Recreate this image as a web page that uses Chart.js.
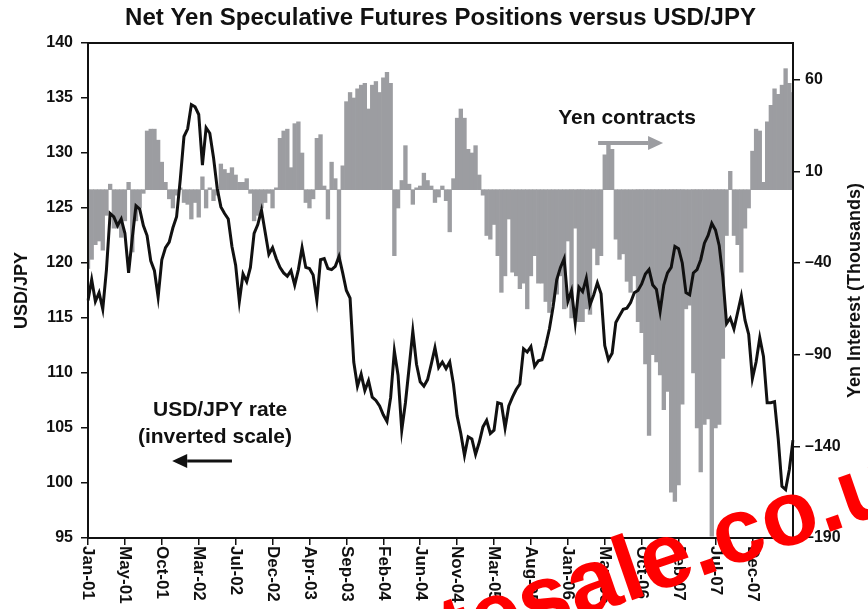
<!DOCTYPE html>
<html>
<head>
<meta charset="utf-8">
<script src="https://cdn.jsdelivr.net/npm/chart.js@4.4.1/dist/chart.umd.min.js"></script>
<style>
  html, body { margin: 0; padding: 0; background: #fff; }
</style>
</head>
<body>
<canvas id="chartYen" width="868" height="609"></canvas>
<script>
// dados (quinzenal, jan-2001 ate ~abr-2008)
const tickLabels = ['Jan-01','May-01','Oct-01','Mar-02','Jul-02','Dec-02','Apr-03','Sep-03','Feb-04','Jun-04',
  'Nov-04','Mar-05','Aug-05','Jan-06','May-06','Oct-06','Feb-07','Jul-07','Dec-07']
const passoRotulo = 10

const usdJpy = [116.6,118.5,116.5,117.3,115.8,119.4,124.5,124.2,123.4,124.0,
  122.7,119.1,122.3,125.2,124.9,123.4,122.5,120.2,119.3,116.9,
  120.3,121.4,121.9,123.2,124.2,127.6,131.5,132.2,134.4,134.2,
  133.5,128.9,132.3,131.8,129.6,126.8,125.1,124.5,124.0,121.5,
  119.8,116.5,119.0,118.3,119.6,122.7,123.5,124.8,122.8,120.8,
  121.4,120.4,119.6,119.1,118.8,119.3,118.0,119.4,121.4,119.6,
  119.5,118.9,116.6,120.3,120.4,119.5,119.4,119.7,120.6,119.1,
  117.5,116.8,111.0,108.8,109.9,108.4,109.3,107.8,107.5,107.0,
  106.2,105.6,107.8,112.0,109.8,104.8,107.3,110.5,113.8,110.8,
  109.2,108.8,109.4,110.8,112.3,110.5,111.0,110.4,111.0,109.0,
  106.1,104.5,102.5,104.2,104.0,102.6,103.7,105.1,105.7,104.5,
  104.8,107.3,107.2,105.0,107.0,107.8,108.5,109.0,112.2,111.9,
  112.4,110.6,111.1,111.2,112.5,114.0,116.0,118.5,119.6,120.4,
  116.5,117.5,114.6,117.8,117.4,118.6,116.2,117.1,118.2,117.2,
  112.5,111.2,111.8,114.6,115.2,115.8,115.9,116.4,117.3,117.5,
  118.1,119.0,119.4,118.0,117.6,115.6,118.0,119.1,119.6,121.5,
  121.3,120.0,117.3,117.1,119.1,119.4,120.3,121.8,122.5,123.6,
  123.0,121.6,118.7,114.5,115.0,114.0,115.5,117.0,114.8,113.5,
  109.5,111.0,113.2,111.5,107.3,107.3,107.4,104.0,99.7,99.4,
  101.2,103.9]

const yenContracts = [-43,-38,-30,-28,-33,-14,3,-21,-21,-26,
  -17,4,-34,-17,-10,-2,32,33,33,27,
  15,4,-5,-10,-3,1,-7,-8,-16,-7,
  -15,7,-10,1,-6,-3,14,11,9,12,
  8,4,4,6,-2,-17,-14,-10,-7,-2,
  -10,1,28,32,33,12,36,37,20,-7,
  -10,-5,28,30,2,-16,15,6,-38,13,
  48,53,50,55,57,58,44,57,59,53,
  61,64,58,-36,-10,5,24,3,-8,1,
  2,9,5,2,-7,-4,2,-6,-23,6,
  39,44,39,22,20,24,8,-3,-25,-27,
  -19,-36,-56,-47,-16,-45,-47,-54,-51,-65,
  -47,-36,-51,-51,-61,-67,-61,-57,-47,-65,
  -28,-70,-21,-72,-72,-65,-68,-32,-41,-36,
  19,26,22,-27,-38,-35,-50,-56,-47,-72,
  -78,-95,-134,-90,-94,-101,-120,-110,-165,-170,
  -161,-117,-65,-63,-100,-130,-154,-128,-125,-189,
  -130,-128,-92,-25,10,-25,-30,-45,-21,-10,
  21,33,32,4,37,46,55,52,57,66,
  58,53]

const ticksUsd = [95,100,105,110,115,120,125,130,135,140]
const ticksYen = [-190,-140,-90,-40,10,60]

// rotulos da categoria: so a cada 10 pontos
var labels = usdJpy.map((v, i) => (i % passoRotulo == 0 && tickLabels[i / passoRotulo]) || '')

const fonte = '"Liberation Sans", Arial, sans-serif'
const preto = '#111111'
const cinza = '#9c9da1'

const extras = {
  id: 'extras',
  afterDraw(chart) {
    const c = chart.ctx
    const a = chart.chartArea
    const sx = chart.scales.x, sy = chart.scales.y, sy1 = chart.scales.y1
    c.save()

    // moldura
    c.strokeStyle = preto
    c.lineWidth = 2
    c.strokeRect(a.left, a.top, a.right - a.left, a.bottom - a.top)

    // titulo
    c.fillStyle = preto
    c.font = 'bold 24px ' + fonte
    c.textAlign = 'center'
    c.textBaseline = 'middle'
    c.fillText('Net Yen Speculative Futures Positions versus USD/JPY', (a.left + a.right) / 2, 18)

    // titulos dos eixos
    c.font = 'bold 18px ' + fonte
    c.save(); c.translate(22, (a.top + a.bottom) / 2); c.rotate(-Math.PI / 2); c.fillText('USD/JPY', 0, 0); c.restore()
    c.save(); c.translate(855, (a.top + a.bottom) / 2); c.rotate(-Math.PI / 2); c.fillText('Yen Interest (Thousands)', 0, 0); c.restore()

    // rotulos do eixo x, girados para baixo
    c.font = 'bold 17px ' + fonte
    c.textAlign = 'left'
    tickLabels.forEach((lab, k) => {
      const px = sx.getPixelForValue(k * passoRotulo)
      c.save(); c.translate(px, a.bottom + 8); c.rotate(Math.PI / 2); c.fillText(lab, 0, 0); c.restore()
    })

    // anotacao contratos
    c.font = 'bold 21px ' + fonte
    c.textAlign = 'left'
    c.fillText('Yen contracts', sx.getPixelForValue(127.4), sy1.getPixelForValue(39))
    seta(c, sx.getPixelForValue(138.2), sx.getPixelForValue(155.8), sy1.getPixelForValue(25.5), cinza, 4)

    // anotacao USD/JPY
    c.textAlign = 'center'
    c.fillText('USD/JPY rate', sx.getPixelForValue(35.8), sy.getPixelForValue(106.6))
    c.fillText('(inverted scale)', sx.getPixelForValue(34.4), sy.getPixelForValue(104.2))
    seta(c, sx.getPixelForValue(39), sx.getPixelForValue(22.8), sy.getPixelForValue(102.0), preto, 3)

    // marca d'agua vermelha
    c.save()
    c.translate(336, 702)
    c.rotate(-19 * Math.PI / 180)
    c.font = 'bold 92px ' + fonte
    c.textAlign = 'left'
    c.textBaseline = 'alphabetic'
    c.fillStyle = '#ff0000'
    c.fillText('Notesale.co.uk', 0, 0)
    c.restore()

    c.restore()
  }
}

function seta(c, x0, x1, y, cor, largura) {
  const dir = x1 > x0 ? 1 : -1
  const cab = 15
  c.strokeStyle = cor
  c.fillStyle = cor
  c.lineWidth = largura
  c.beginPath(); c.moveTo(x0, y); c.lineTo(x1 - dir * cab, y); c.stroke()
  c.beginPath(); c.moveTo(x1, y); c.lineTo(x1 - dir * cab, y - 7); c.lineTo(x1 - dir * cab, y + 7); c.closePath(); c.fill()
  c.fillStyle = preto
}

const ctx = document.getElementById('chartYen')

var chartYen = new Chart(ctx, {
  type: 'bar',
  data: {
    labels: labels,
    datasets: [{
      type: 'line',
      label: 'USD/JPY',
      data: usdJpy,
      yAxisID: 'y',
      borderColor: preto,
      borderWidth: 3,
      pointRadius: 0,
      tension: 0,
      order: 0
    }, {
      type: 'bar',
      label: 'Yen contracts',
      data: yenContracts,
      yAxisID: 'y1',
      backgroundColor: cinza,
      borderWidth: 0,
      barPercentage: 1,
      categoryPercentage: 1,
      order: 1
    }]
  },
  options: {
    responsive: false,
    animation: false,
    layout: { padding: { top: 43, left: 0, right: 0, bottom: 0 } },
    plugins: {
      legend: { display: false },
      tooltip: { enabled: false },
      title: { display: false }
    },
    scales: {
      x: {
        type: 'category',
        offset: false,
        grid: {
          offset: false,
          drawOnChartArea: false,
          tickLength: 7,
          lineWidth: 1.5,
          color: (g) => labels[g.index] ? preto : 'rgba(0,0,0,0)'
        },
        ticks: { display: false, autoSkip: false },
        border: { display: true, color: preto, width: 2 },
        afterFit: (s) => { s.height = 71 }
      },
      y: {
        position: 'left',
        min: 95,
        max: 140,
        afterBuildTicks: (s) => { s.ticks = ticksUsd.map(v => ({ value: v })) },
        ticks: { color: preto, padding: 8, font: { family: fonte, size: 16, weight: 'bold' } },
        grid: { drawOnChartArea: false, tickLength: 7, lineWidth: 1.5, color: preto },
        border: { display: true, color: preto, width: 2 },
        afterFit: (s) => { s.width = 88 }
      },
      y1: {
        position: 'right',
        min: -190,
        max: 80,
        afterBuildTicks: (s) => { s.ticks = ticksYen.map(v => ({ value: v })) },
        ticks: {
          color: preto,
          padding: 5,
          font: { family: fonte, size: 16, weight: 'bold' },
          callback: (v) => v < 0 ? '\u2013' + Math.abs(v) : v
        },
        grid: { drawOnChartArea: false, tickLength: 7, lineWidth: 1.5, color: preto },
        border: { display: true, color: preto, width: 2 },
        afterFit: (s) => { s.width = 75 }
      }
    }
  },
  plugins: [extras]
})
</script>
</body>
</html>
